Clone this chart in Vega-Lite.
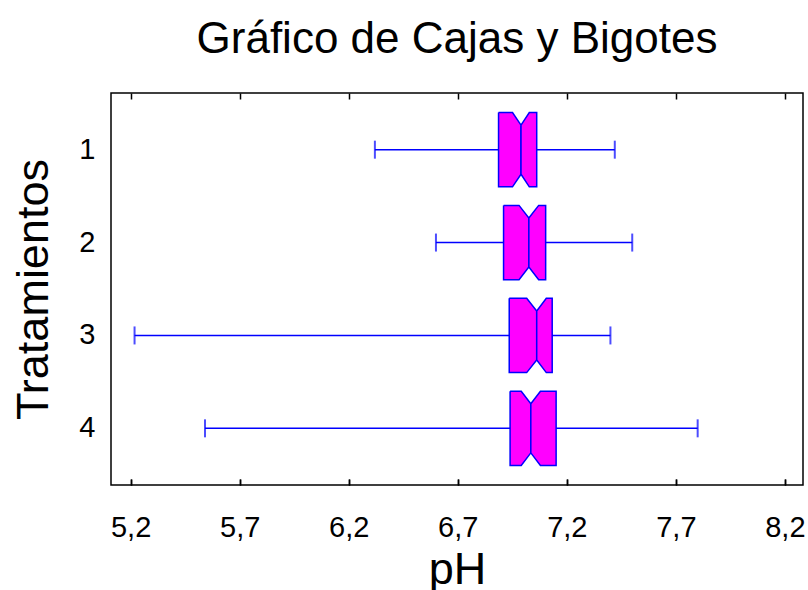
{
  "$schema": "https://vega.github.io/schema/vega-lite/v6.json",
  "width": 692,
  "height": 392,
  "autosize": "none",
  "padding": {"left": 111, "top": 93, "right": 5, "bottom": 105},
  "background": "white",
  "config": {
    "font": "Liberation Sans",
    "view": {"stroke": "black", "strokeWidth": 1.5}
  },
  "title": {
    "text": "Gráfico de Cajas y Bigotes",
    "fontSize": 44,
    "fontWeight": "normal",
    "font": "Liberation Sans",
    "color": "black",
    "anchor": "middle",
    "offset": 31
  },
  "datasets": {
    "stats": [
      {"t": "1", "min": 6.32, "q1": 6.887, "med": 6.99, "q3": 7.062, "max": 7.42},
      {"t": "2", "min": 6.60, "q1": 6.91, "med": 7.026, "q3": 7.103, "max": 7.50},
      {"t": "3", "min": 5.218, "q1": 6.936, "med": 7.062, "q3": 7.133, "max": 7.40},
      {"t": "4", "min": 5.541, "q1": 6.94, "med": 7.035, "q3": 7.151, "max": 7.80}
    ],
    "boxes": [
      {"t": "1", "poly": "1L", "ord": 1, "ph": 6.887, "v": -1},
      {"t": "1", "poly": "1L", "ord": 2, "ph": 6.951, "v": -1},
      {"t": "1", "poly": "1L", "ord": 3, "ph": 6.99, "v": -0.66},
      {"t": "1", "poly": "1L", "ord": 4, "ph": 6.99, "v": 0.66},
      {"t": "1", "poly": "1L", "ord": 5, "ph": 6.951, "v": 1},
      {"t": "1", "poly": "1L", "ord": 6, "ph": 6.887, "v": 1},
      {"t": "1", "poly": "1L", "ord": 7, "ph": 6.887, "v": -1},
      {"t": "1", "poly": "1R", "ord": 1, "ph": 6.99, "v": -0.66},
      {"t": "1", "poly": "1R", "ord": 2, "ph": 7.028, "v": -1},
      {"t": "1", "poly": "1R", "ord": 3, "ph": 7.062, "v": -1},
      {"t": "1", "poly": "1R", "ord": 4, "ph": 7.062, "v": 1},
      {"t": "1", "poly": "1R", "ord": 5, "ph": 7.028, "v": 1},
      {"t": "1", "poly": "1R", "ord": 6, "ph": 6.99, "v": 0.66},
      {"t": "1", "poly": "1R", "ord": 7, "ph": 6.99, "v": -0.66},
      {"t": "2", "poly": "2L", "ord": 1, "ph": 6.91, "v": -1},
      {"t": "2", "poly": "2L", "ord": 2, "ph": 6.981, "v": -1},
      {"t": "2", "poly": "2L", "ord": 3, "ph": 7.026, "v": -0.66},
      {"t": "2", "poly": "2L", "ord": 4, "ph": 7.026, "v": 0.66},
      {"t": "2", "poly": "2L", "ord": 5, "ph": 6.981, "v": 1},
      {"t": "2", "poly": "2L", "ord": 6, "ph": 6.91, "v": 1},
      {"t": "2", "poly": "2L", "ord": 7, "ph": 6.91, "v": -1},
      {"t": "2", "poly": "2R", "ord": 1, "ph": 7.026, "v": -0.66},
      {"t": "2", "poly": "2R", "ord": 2, "ph": 7.071, "v": -1},
      {"t": "2", "poly": "2R", "ord": 3, "ph": 7.103, "v": -1},
      {"t": "2", "poly": "2R", "ord": 4, "ph": 7.103, "v": 1},
      {"t": "2", "poly": "2R", "ord": 5, "ph": 7.071, "v": 1},
      {"t": "2", "poly": "2R", "ord": 6, "ph": 7.026, "v": 0.66},
      {"t": "2", "poly": "2R", "ord": 7, "ph": 7.026, "v": -0.66},
      {"t": "3", "poly": "3L", "ord": 1, "ph": 6.936, "v": -1},
      {"t": "3", "poly": "3L", "ord": 2, "ph": 7.016, "v": -1},
      {"t": "3", "poly": "3L", "ord": 3, "ph": 7.062, "v": -0.66},
      {"t": "3", "poly": "3L", "ord": 4, "ph": 7.062, "v": 0.66},
      {"t": "3", "poly": "3L", "ord": 5, "ph": 7.016, "v": 1},
      {"t": "3", "poly": "3L", "ord": 6, "ph": 6.936, "v": 1},
      {"t": "3", "poly": "3L", "ord": 7, "ph": 6.936, "v": -1},
      {"t": "3", "poly": "3R", "ord": 1, "ph": 7.062, "v": -0.66},
      {"t": "3", "poly": "3R", "ord": 2, "ph": 7.106, "v": -1},
      {"t": "3", "poly": "3R", "ord": 3, "ph": 7.133, "v": -1},
      {"t": "3", "poly": "3R", "ord": 4, "ph": 7.133, "v": 1},
      {"t": "3", "poly": "3R", "ord": 5, "ph": 7.106, "v": 1},
      {"t": "3", "poly": "3R", "ord": 6, "ph": 7.062, "v": 0.66},
      {"t": "3", "poly": "3R", "ord": 7, "ph": 7.062, "v": -0.66},
      {"t": "4", "poly": "4L", "ord": 1, "ph": 6.94, "v": -1},
      {"t": "4", "poly": "4L", "ord": 2, "ph": 6.991, "v": -1},
      {"t": "4", "poly": "4L", "ord": 3, "ph": 7.035, "v": -0.66},
      {"t": "4", "poly": "4L", "ord": 4, "ph": 7.035, "v": 0.66},
      {"t": "4", "poly": "4L", "ord": 5, "ph": 6.991, "v": 1},
      {"t": "4", "poly": "4L", "ord": 6, "ph": 6.94, "v": 1},
      {"t": "4", "poly": "4L", "ord": 7, "ph": 6.94, "v": -1},
      {"t": "4", "poly": "4R", "ord": 1, "ph": 7.035, "v": -0.66},
      {"t": "4", "poly": "4R", "ord": 2, "ph": 7.079, "v": -1},
      {"t": "4", "poly": "4R", "ord": 3, "ph": 7.151, "v": -1},
      {"t": "4", "poly": "4R", "ord": 4, "ph": 7.151, "v": 1},
      {"t": "4", "poly": "4R", "ord": 5, "ph": 7.079, "v": 1},
      {"t": "4", "poly": "4R", "ord": 6, "ph": 7.035, "v": 0.66},
      {"t": "4", "poly": "4R", "ord": 7, "ph": 7.035, "v": -0.66}
    ]
  },
  "encoding": {
    "y": {
      "field": "t", "type": "nominal",
      "scale": {"type": "band", "domain": ["1", "2", "3", "4"], "paddingInner": 0, "paddingOuter": 0.11},
      "axis": {
        "orient": "left",
        "labelFontSize": 29,
        "labelColor": "black",
        "labelPadding": 16,
        "labelAngle": 0,
        "ticks": false,
        "domain": false,
        "grid": false,
        "title": "Tratamientos",
        "titleFontSize": 45,
        "titleFontWeight": "normal",
        "titleColor": "black",
        "titlePadding": 22
      }
    }
  },
  "layer": [
    {
      "data": {"name": "stats"},
      "mark": {"type": "rule", "color": "#0000FF", "strokeWidth": 1.5},
      "encoding": {
        "x": {
          "field": "min", "type": "quantitative",
          "scale": {"domain": [5.11, 8.283], "nice": false, "zero": false},
          "axis": {
            "orient": "bottom",
            "values": [5.2, 5.7, 6.2, 6.7, 7.2, 7.7, 8.2],
            "labelExpr": "replace(format(datum.value, '.1f'), '.', ',')",
            "labelFontSize": 29,
            "labelColor": "black",
            "labelPadding": 34,
            "labelFlush": false,
            "tickSize": -6,
            "tickColor": "black",
            "tickWidth": 1.5,
            "domain": false,
            "grid": true,
            "gridColor": "black",
            "gridWidth": 1.5,
            "gridOpacity": 1,
            "gridDash": [6, 380, 6, 10],
            "title": "pH",
            "titleFontSize": 45,
            "titleFontWeight": "normal",
            "titleColor": "black",
            "titleBaseline": "alphabetic",
            "titleY": 98
          }
        },
        "x2": {"field": "max"}
      }
    },
    {
      "data": {"name": "stats"},
      "transform": [{"fold": ["min", "max"], "as": ["stat", "value"]}],
      "mark": {"type": "tick", "orient": "vertical", "size": 18, "thickness": 2, "color": "#0000FF"},
      "encoding": {
        "x": {"field": "value", "type": "quantitative"}
      }
    },
    {
      "data": {"name": "boxes"},
      "mark": {"type": "line", "fill": "#FF00FF", "stroke": "#0000FF", "strokeWidth": 1.5, "strokeJoin": "miter", "interpolate": "linear"},
      "encoding": {
        "x": {"field": "ph", "type": "quantitative"},
        "yOffset": {"field": "v", "type": "quantitative", "scale": {"domain": [-1.25, 1.25]}},
        "detail": {"field": "poly", "type": "nominal"},
        "order": {"field": "ord", "type": "quantitative"}
      }
    }
  ]
}
